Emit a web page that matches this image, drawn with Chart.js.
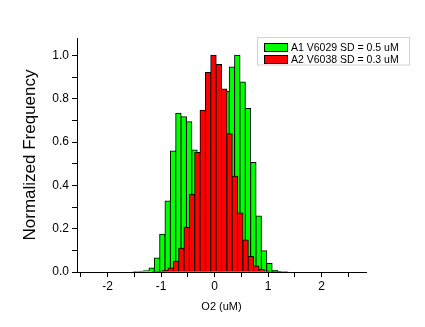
<!DOCTYPE html>
<html>
<head>
<meta charset="utf-8">
<script src="https://cdn.jsdelivr.net/npm/chart.js@4/dist/chart.umd.min.js"></script>
<style>
  html, body { margin: 0; padding: 0; background: #fff; }
  #wrap { width: 425px; height: 327px; }
</style>
</head>
<body>
<div id="wrap"><canvas id="hist" width="425" height="327"></canvas></div>
<script>
// Bin centres (uM) and normalized counts for each sensor
const a1Label = "A1 V6029 SD = 0.5 uM";
const a1Bins = [-1.475, -1.375, -1.275, -1.175, -1.075, -0.975, -0.875, -0.775, -0.675, -0.575,
    -0.475, -0.375, -0.275, -0.175, -0.075, 0.025, 0.125, 0.225, 0.325, 0.425,
    0.525, 0.625, 0.725, 0.825, 0.925, 1.025, 1.125, 1.225, 1.325];
const a1Freq = [0.001, 0.003, 0.006, 0.018, 0.065, 0.174, 0.328, 0.558, 0.733, 0.717,
    0.694, 0.563, 0.52, 0.5, 0.53, 0.6, 0.72, 0.834, 0.946, 1.0,
    0.877, 0.755, 0.505, 0.259, 0.098, 0.039, 0.007, 0.002, 0.001];

const a2Label = "A2 V6038 SD = 0.3 uM";
const a2Bins = [-1.12, -1.02, -0.92, -0.82, -0.72, -0.62, -0.52, -0.42, -0.32, -0.22,
    -0.12, -0.02, 0.08, 0.18, 0.28, 0.38, 0.48, 0.58, 0.68, 0.78,
    0.88, 0.98, 1.08, 1.18];
const a2Freq = [0.001, 0.003, 0.007, 0.018, 0.05, 0.11, 0.207, 0.358, 0.552, 0.747,
    0.921, 1.0, 0.958, 0.845, 0.638, 0.442, 0.272, 0.148, 0.072, 0.028,
    0.011, 0.005, 0.002, 0.001];

const xMin = -2.57, xMax = 2.83;
const yMin = 0, yMax = 1.08;

const fontFamily = "'Liberation Sans', Arial, sans-serif";

function toPoints(bins, freq) {
    return bins.map(function (x, i) { return { x: x, y: freq[i] }; });
}

// boxed legend in the upper right corner, like the plotting package does it
const boxLegend = {
    id: "boxLegend",
    afterDraw: function (chart) {
        const ctx = chart.ctx;
        const left = 257, top = 37, right = 410, bottom = 65.5;
        ctx.save();
        ctx.fillStyle = "#fff";
        ctx.fillRect(left, top, right - left, bottom - top);
        ctx.strokeStyle = "#d4d4d4";
        ctx.lineWidth = 1;
        ctx.strokeRect(left + 0.5, top + 0.5, right - left - 1, bottom - top - 1);
        ctx.font = "10.5px " + fontFamily;
        ctx.textBaseline = "middle";
        chart.data.datasets.forEach(function (ds, i) {
            const y = 43 + i * 12;
            ctx.fillStyle = ds.backgroundColor;
            ctx.fillRect(264, y, 24, 9);
            ctx.strokeStyle = "#000";
            ctx.strokeRect(264.5, y + 0.5, 23, 8);
            ctx.fillStyle = "#000";
            ctx.fillText(ds.label, 291, y + 4.8);
        });
        ctx.restore();
    }
};

new Chart(document.getElementById("hist").getContext("2d"), {
    type: "bar",
    data: {
        datasets: [{
            label: a1Label,
            data: toPoints(a1Bins, a1Freq),
            xAxisID: "x",
            backgroundColor: "#00ff00",
            borderColor: "#000",
            borderWidth: 1,
            order: 1
        }, {
            label: a2Label,
            data: toPoints(a2Bins, a2Freq),
            xAxisID: "x2",
            backgroundColor: "#ff0000",
            borderColor: "#000",
            borderWidth: 1,
            order: 0
        }]
    },
    options: {
        responsive: false,
        animation: false,
        devicePixelRatio: 1,
        layout: { padding: { top: 38, right: 59, left: 0, bottom: 0 } },
        datasets: {
            // inflate by half the border so outlines sit centred on the bin edges
            bar: { barPercentage: 1, categoryPercentage: 1, grouped: false, inflateAmount: 0.5 }
        },
        plugins: {
            legend: { display: false },
            tooltip: { enabled: false }
        },
        scales: {
            x: {
                type: "linear",
                offset: false,
                min: xMin,
                max: xMax,
                afterFit: function (scale) { scale.height = 55; },
                grid: { offset: false, drawOnChartArea: false, tickLength: 5, color: "#000" },
                border: { display: true, color: "#000", width: 1 },
                ticks: {
                    stepSize: 0.5,
                    includeBounds: false,
                    autoSkip: false,
                    maxRotation: 0,
                    padding: 2,
                    color: "#000",
                    font: { family: fontFamily, size: 12 },
                    callback: function (v) {
                        const r = Math.round(v * 2) / 2;
                        if (r % 1 !== 0) return "";
                        return Math.abs(r) < 1e-9 ? "0" : String(r);
                    }
                },
                title: {
                    display: true,
                    text: "O2 (uM)",
                    color: "#000",
                    font: { family: fontFamily, size: 11 },
                    padding: { top: 0, bottom: 13 }
                }
            },
            x2: {
                type: "linear",
                display: false,
                offset: false,
                min: xMin,
                max: xMax
            },
            y: {
                min: yMin,
                max: yMax,
                afterFit: function (scale) { scale.width = 77; },
                grid: { drawOnChartArea: false, tickLength: 5, color: "#000" },
                border: { display: true, color: "#000", width: 1 },
                ticks: {
                    stepSize: 0.1,
                    includeBounds: false,
                    autoSkip: false,
                    padding: 3,
                    color: "#000",
                    font: { family: fontFamily, size: 12 },
                    callback: function (v) {
                        const k = Math.round(v * 10);
                        return k % 2 === 0 ? (k / 10).toFixed(1) : "";
                    }
                },
                title: {
                    display: true,
                    text: "Normalized Frequency",
                    color: "#000",
                    font: { family: fontFamily, size: 17 },
                    padding: { top: 20, bottom: 0 }
                }
            }
        }
    },
    plugins: [boxLegend]
});
</script>
</body>
</html>
